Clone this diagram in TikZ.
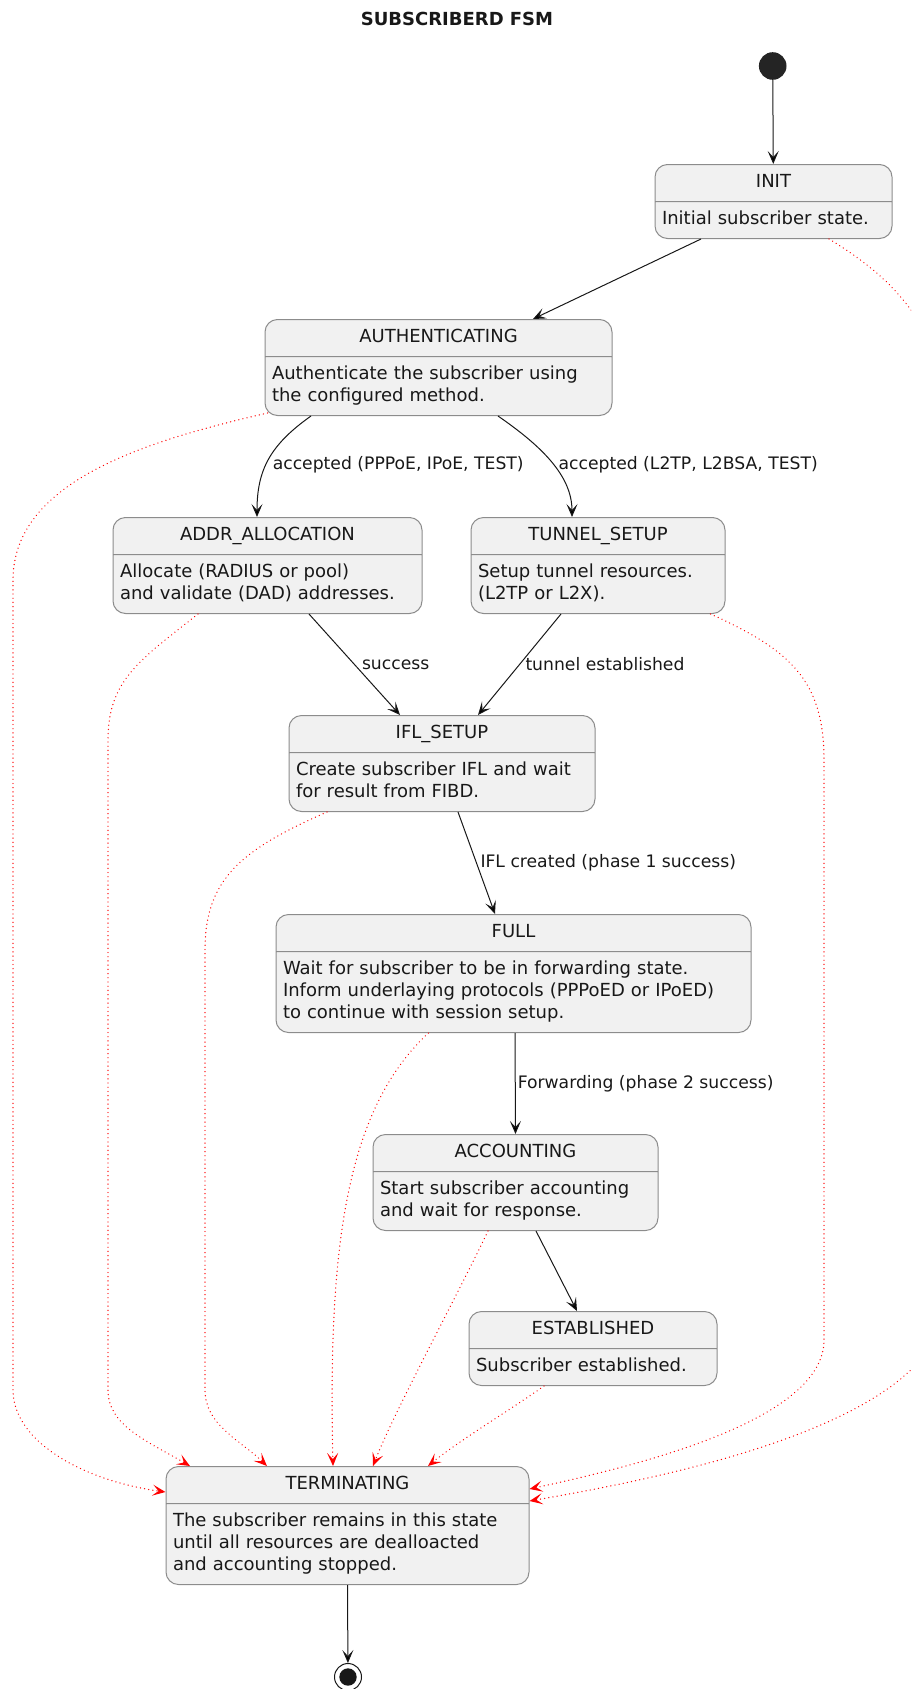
\documentclass[tikz,border=0pt]{standalone}
\usepackage{fontspec}
\setmainfont{DejaVu Sans}
\usetikzlibrary{arrows.meta,shapes.multipart}
\definecolor{boxfill}{HTML}{F1F1F1}
\definecolor{boxline}{HTML}{8C8C8C}
\definecolor{ink}{HTML}{181818}
\newcommand{\statefont}{\fontsize{18}{22}\selectfont}
\newcommand{\edgefont}{\fontsize{17.2}{20}\selectfont}
\newcommand{\statename}[1]{\makebox[\hsize]{\strut #1}}
\begin{document}
\begin{tikzpicture}[x=1pt, y=1pt, line join=round, >={Stealth[length=13pt,width=11pt,inset=6pt]},
		fsm/.style={rectangle split, rectangle split parts=2, draw=boxline, fill=boxfill, line width=1pt,
			rounded corners=12.5pt, inner xsep=7pt, inner ysep=7pt, font=\statefont, text=ink, align=left, anchor=north},
		go/.style={->, draw=ink, line width=1pt},
		fail/.style={->, red, line width=1.4pt, line cap=round, dash pattern=on 0.01pt off 4.2pt},
		lbl/.style={font=\edgefont, text=ink, inner sep=0pt, anchor=west}]
			\useasboundingbox (0,0) rectangle (911,-1689);
			\node[font=\bfseries\statefont, text=ink] (title) at (457,-19) {SUBSCRIBERD FSM};
			% pseudo states
			\node[circle, fill=ink!95, minimum size=27.6pt, inner sep=0pt] (start) at (772.7,-66) {};
			\node[circle, draw=ink, line width=1pt, minimum size=27pt, inner sep=0pt] (stop) at (348,-1677) {};
			\fill[ink] (stop.center) circle (8.7);
			% states
			\node[fsm, text width=223pt] (init) at (773.5,-164) {\statename{INIT}
				\nodepart{two}\strut Initial subscriber state.};
			\node[fsm, text width=333pt] (auth) at (438.5,-319) {\statename{AUTHENTICATING}
				\nodepart{two}\strut Authenticate the subscriber using\\the configured method.\strut};
			\node[fsm, text width=295pt] (addr) at (267.5,-517) {\statename{ADDR\_ALLOCATION}
				\nodepart{two}\strut Allocate (RADIUS or pool)\\and validate (DAD) addresses.\strut};
			\node[fsm, text width=240pt] (tunnel) at (598,-517) {\statename{TUNNEL\_SETUP}
				\nodepart{two}\strut Setup tunnel resources.\\(L2TP or L2X).\strut};
			\node[fsm, text width=292pt] (ifl) at (442,-715) {\statename{IFL\_SETUP}
				\nodepart{two}\strut Create subscriber IFL and wait\\for result from FIBD.\strut};
			\node[fsm, text width=461pt] (full) at (513.5,-914) {\statename{FULL}
				\nodepart{two}\strut Wait for subscriber to be in forwarding state.\\Inform underlaying protocols (PPPoED or IPoED)\\to continue with session setup.\strut};
			\node[fsm, text width=271pt] (acct) at (515.5,-1134) {\statename{ACCOUNTING}
				\nodepart{two}\strut Start subscriber accounting\\and wait for response.\strut};
			\node[fsm, text width=234pt] (est) at (593,-1311) {\statename{ESTABLISHED}
				\nodepart{two}\strut Subscriber established.};
			\node[fsm, text width=349pt] (term) at (347.5,-1466) {\statename{TERMINATING}
				\nodepart{two}\strut The subscriber remains in this state\\until all resources are dealloacted\\and accounting stopped.\strut};
			% transitions
			\draw[go] (start) -- (init);
			\draw[go] ([xshift=-72.5pt]init.south) -- ([xshift=94.5pt]auth.north);
			\draw[go] ([xshift=-127.5pt]auth.south) .. controls (270,-445) and (257,-470) .. ([xshift=-10.5pt]addr.north)
				node[lbl, pos=0.55, xshift=6pt] {accepted (PPPoE, IPoE, TEST)};
			\draw[go] ([xshift=59.5pt]auth.south) .. controls (540,-445) and (572,-475) .. ([xshift=-26pt]tunnel.north)
				node[lbl, pos=0.53, xshift=5pt] {accepted (L2TP, L2BSA, TEST)};
			\draw[go] ([xshift=41.5pt]addr.south) -- node[lbl, xshift=7pt] {success} ([xshift=-42pt]ifl.north);
			\draw[go] ([xshift=-37pt]tunnel.south) -- node[lbl, xshift=5.5pt] {tunnel established} ([xshift=36pt]ifl.north);
			\draw[go] ([xshift=16pt]ifl.south) -- node[lbl, xshift=3.5pt] {IFL created (phase 1 success)} ([xshift=-18.5pt]full.north);
			\draw[go] ([xshift=1.5pt]full.south) -- node[lbl, xshift=2pt] {Forwarding (phase 2 success)} (acct.north);
			\draw[go] ([xshift=20.5pt]acct.south) -- ([xshift=-16pt]est.north);
			\draw[go] (term.south) -- (stop);
			% error paths to TERMINATING
			\draw[fail] ([xshift=3pt,yshift=3pt]auth.south west) .. controls (150,-440) and (13,-480) .. (13,-580)
				-- (13,-1390) .. controls (13,-1440) and (80,-1480) .. ([yshift=-26pt]term.north west);
			\draw[fail] ([xshift=-69.5pt]addr.south) .. controls (140,-660) and (108,-680) .. (108,-740)
				-- (108,-1390) .. controls (108,-1425) and (145,-1440) .. ([xshift=-157.5pt]term.north);
			\draw[fail] ([xshift=-115pt]ifl.south) .. controls (240,-850) and (205,-880) .. (205,-950)
				-- (205,-1390) .. controls (205,-1425) and (240,-1440) .. ([xshift=-80.5pt]term.north);
			\draw[fail] ([xshift=-85pt]full.south) .. controls (345,-1110) and (328,-1250) .. ([xshift=-14.5pt]term.north);
			\draw[fail] ([xshift=-27.5pt]acct.south) .. controls (455,-1300) and (395,-1410) .. ([xshift=25.5pt]term.north);
			\draw[fail] ([xshift=-49pt]est.south) .. controls (510,-1410) and (460,-1440) .. ([xshift=80.5pt]term.north);
			\draw[fail] ([xshift=-15pt]tunnel.south east) .. controls (790,-650) and (824,-680) .. (824,-760)
				-- (824,-1340) .. controls (824,-1420) and (640,-1465) .. ([yshift=-23pt]term.north east);
			\begin{scope}
				\clip (0,0) rectangle (911,-1689);
				\draw[fail] ([xshift=55.5pt]init.south) .. controls (880,-270) and (945,-320) .. (945,-420)
					-- (945,-1300) .. controls (945,-1420) and (680,-1475) .. ([yshift=-35pt]term.north east);
			\end{scope}
		\end{tikzpicture}
\end{document}
